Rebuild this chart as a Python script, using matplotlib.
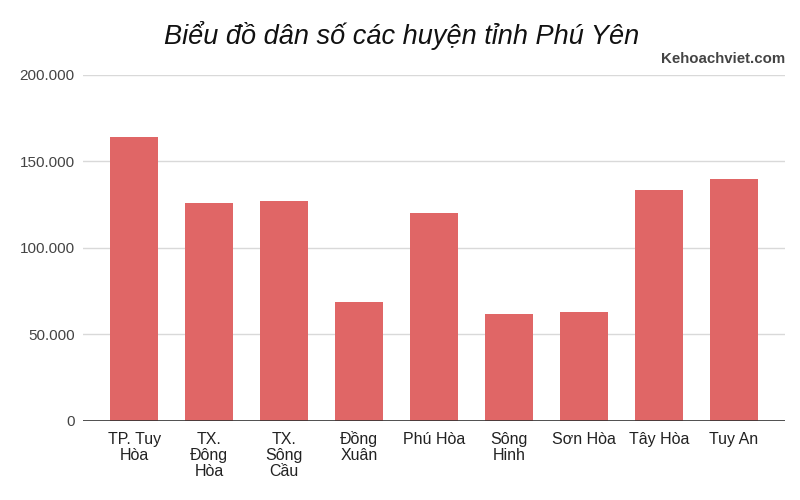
import matplotlib
matplotlib.use("Agg")
import matplotlib.pyplot as plt
from matplotlib.ticker import FuncFormatter
from matplotlib.transforms import ScaledTranslation

# data
huyen = ["TP. Tuy\nHòa", "TX.\nĐông\nHòa", "TX.\nSông\nCầu", "Đồng\nXuân", "Phú Hòa",
         "Sông\nHinh", "Sơn Hòa", "Tây Hòa", "Tuy An"]
dan_so = [164000, 126000, 127000, 68700, 119900, 61700, 63100, 133300, 139500]
yticks = [0, 50000, 100000, 150000, 200000]

bar_col = "#e06666"
txt_col = "#444444"

plt.rcParams['font.family'] = ['Liberation Sans', 'DejaVu Sans']

fig = plt.figure(figsize=(8, 5), dpi=100)
ax = fig.add_axes([0.104, 0.158, 0.877, 0.693])

x = list(range(len(huyen)))
ax.bar(x, dan_so, width=0.64, color=bar_col, zorder=3)

ax.set_xlim(-0.68, 8.68)
ax.set_ylim(0, 200000)
ax.set_yticks(yticks)
ax.yaxis.set_major_formatter(FuncFormatter(lambda v, p: f"{int(v):,}".replace(",", ".")))
ax.grid(True, axis='y', color='#d9d9d9', linewidth=1, zorder=0)
ax.axhline(0, color='#333333', linewidth=1.2, zorder=4)

for s in ax.spines.values():
    s.set_visible(False)

ax.tick_params(axis='y', length=0, pad=6, labelsize=11, labelcolor=txt_col)

# x labels: one text per line, baselines aligned (tall "Đồng" stays in line)
ax.set_xticks(x)
ax.set_xticklabels([])
ax.tick_params(axis='x', length=0)
for i, lab in enumerate(huyen):
    for k, line in enumerate(lab.split("\n")):
        off = ScaledTranslation(0, -(23 + 16 * k) / 100, fig.dpi_scale_trans)
        ax.text(i, 0, line, ha='center', va='baseline', fontsize=11.5, color='#222222',
                transform=ax.get_xaxis_transform() + off, clip_on=False)

fig.text(0.502, 0.93, "Biểu đồ dân số các huyện tỉnh Phú Yên", ha='center', va='center',
         fontsize=19.5, style='italic', color='#111111')
fig.text(0.981, 0.882, "Kehoachviet.com", ha='right', va='center', fontsize=10.8,
         fontweight='bold', color='#444444')

fig.savefig("out.png", dpi=100)
